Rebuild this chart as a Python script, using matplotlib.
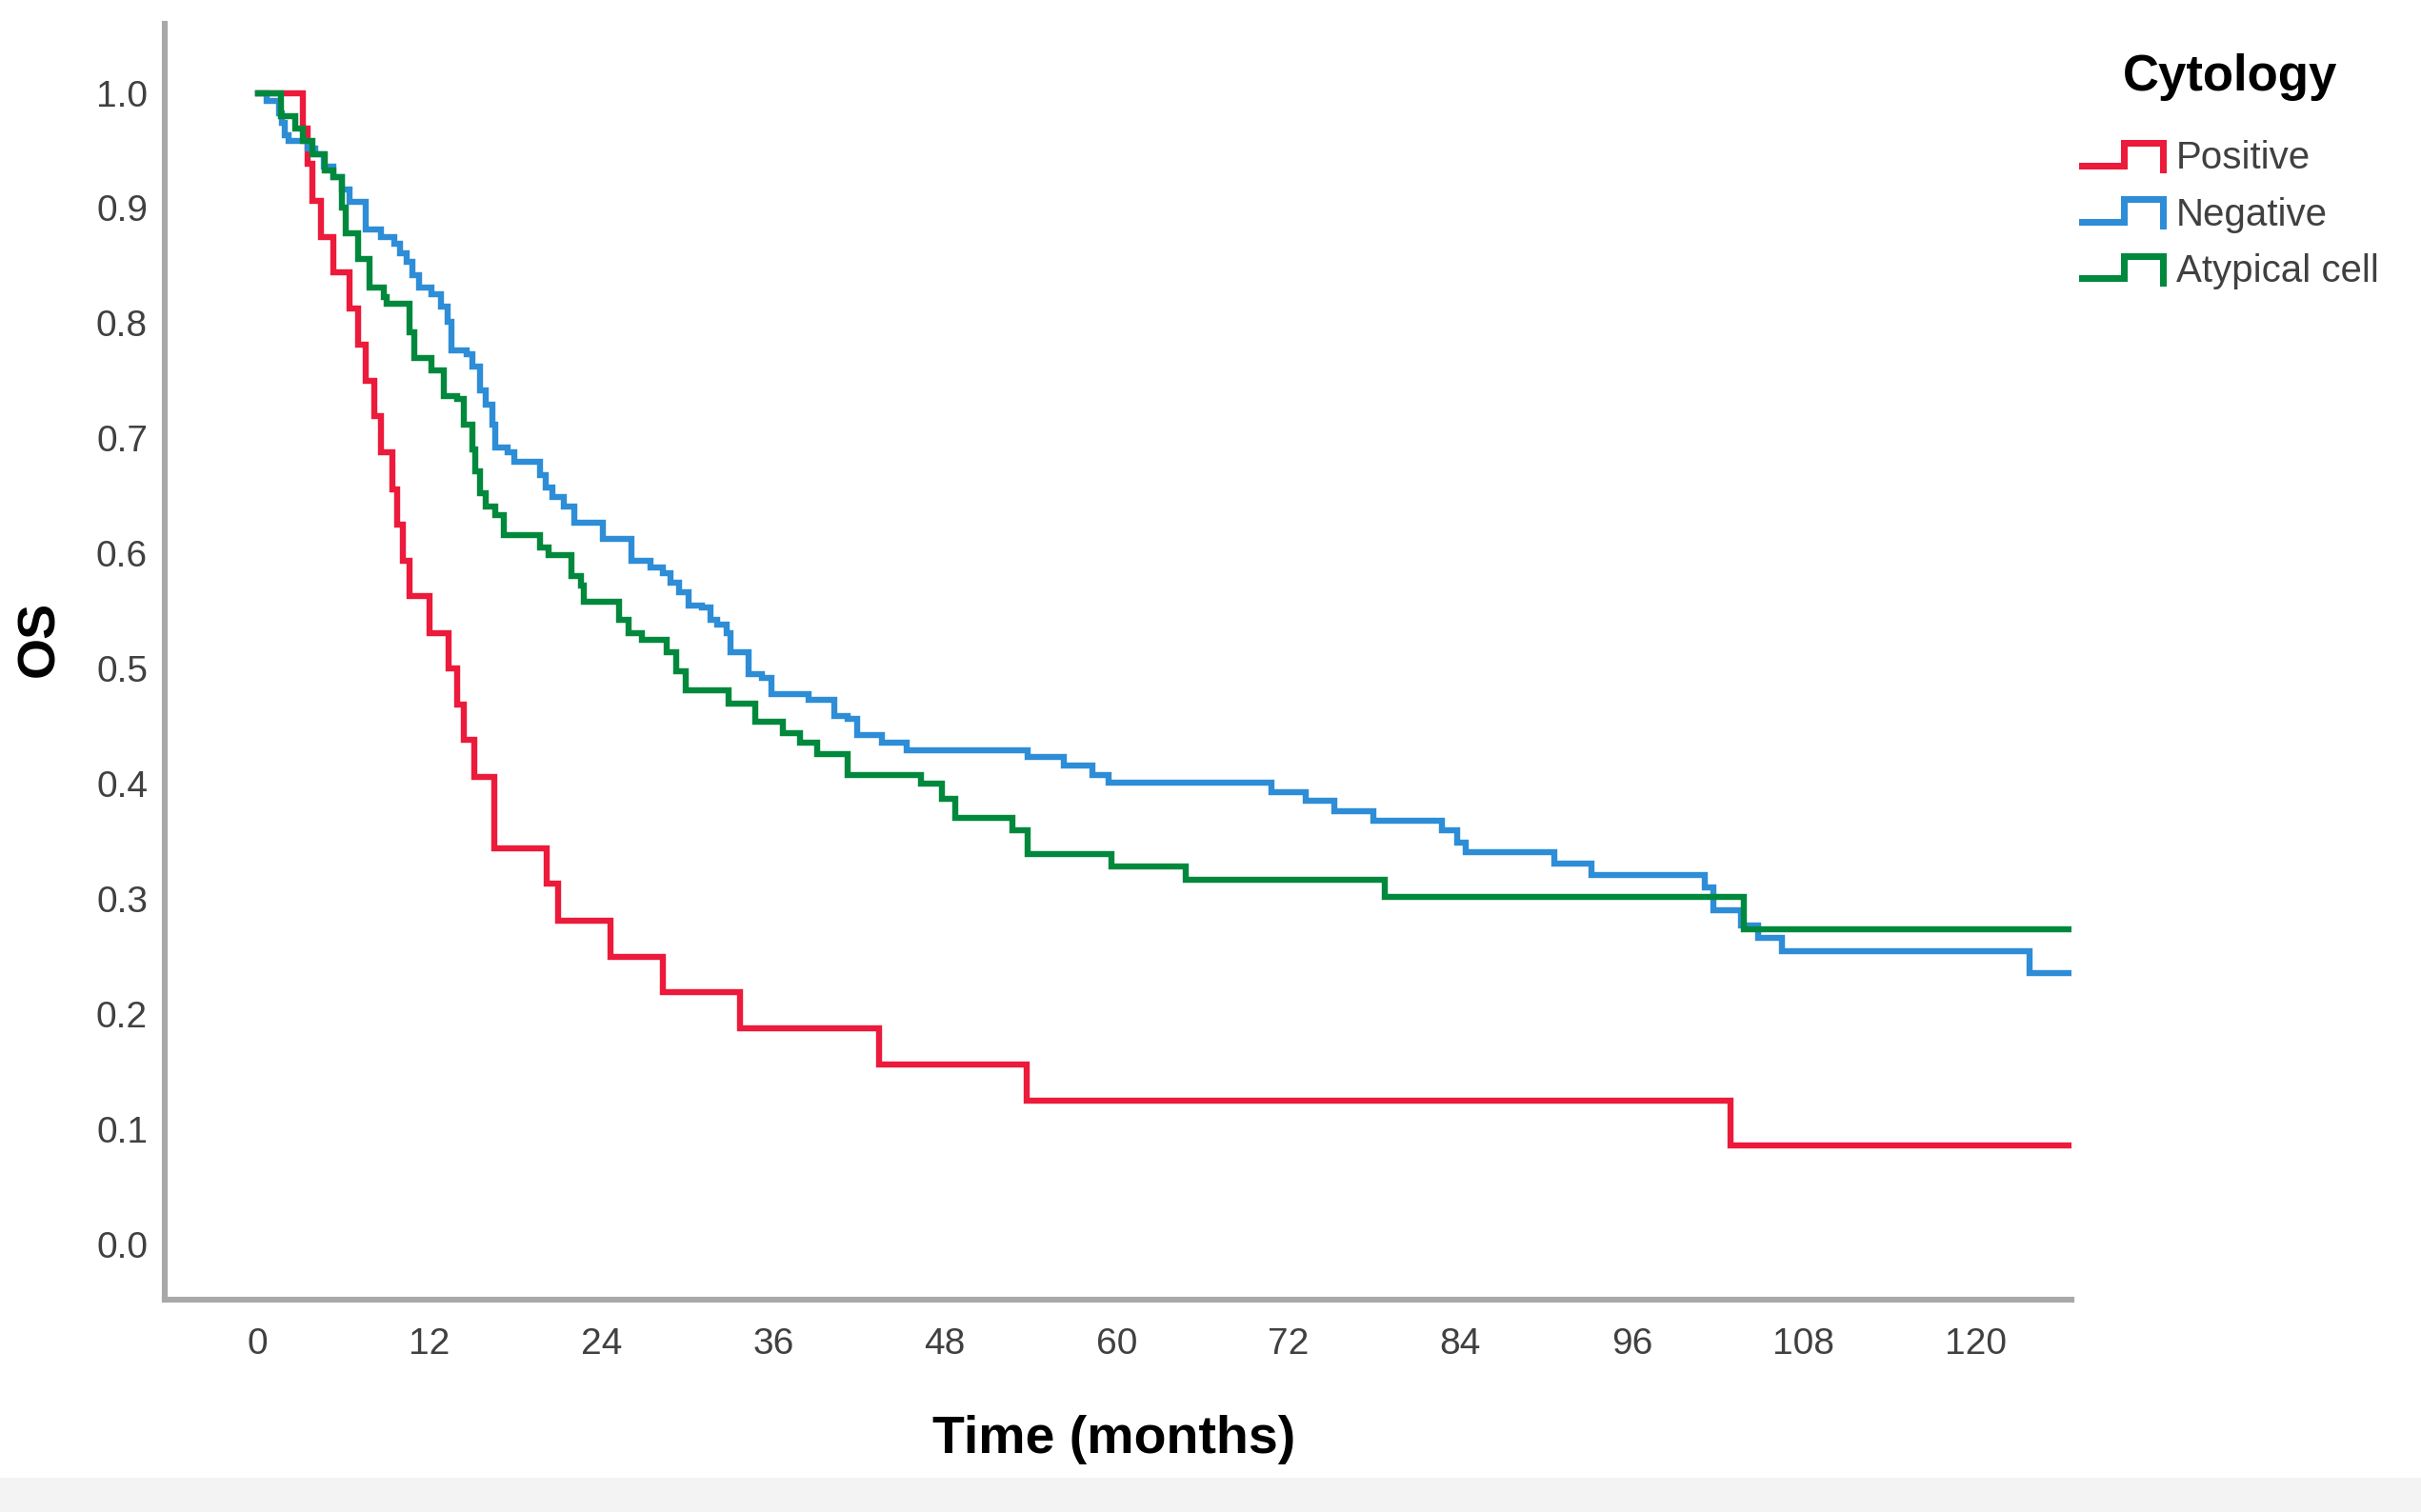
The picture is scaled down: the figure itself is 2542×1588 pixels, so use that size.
import matplotlib
matplotlib.use("Agg")
import matplotlib.pyplot as plt
from matplotlib.lines import Line2D
from matplotlib.legend_handler import HandlerBase
from matplotlib.patches import Rectangle

# survival curves: time (months) where the curve steps, new value
pos_t = [0, 3.15, 3.5, 3.8, 4.4, 5.3, 6.4, 7.0, 7.5, 8.1, 8.6, 9.4, 9.7, 10.1, 10.6, 12.0,
         13.3, 13.9, 14.4, 15.1, 16.5, 20.2, 21.0, 24.6, 28.3, 33.7, 43.4, 53.7, 102.9, 126.5]
pos_s = [1.0, 0.969, 0.938, 0.906, 0.875, 0.844, 0.813, 0.781, 0.750, 0.719, 0.688, 0.656,
         0.625, 0.594, 0.563, 0.531, 0.500, 0.469, 0.438, 0.406, 0.344, 0.313, 0.281, 0.250,
         0.219, 0.188, 0.156, 0.125, 0.086, 0.086]

neg_t = [0, 0.6, 1.5, 1.7, 1.9, 2.15, 3.5, 4.0, 4.6, 5.3,
         5.9, 6.4, 7.5, 8.6, 9.5, 9.9, 10.4, 10.8, 11.25, 12.1,
         12.8, 13.25, 13.5, 14.6, 15.0, 15.5, 15.9, 16.35, 16.6, 17.45,
         17.9, 19.7, 20.1, 20.6, 21.4, 22.1, 24.1, 26.1, 27.4, 28.3,
         28.8, 29.4, 30.1, 31.0, 31.65, 32.1, 32.75, 33.0, 34.3, 35.2,
         35.9, 38.5, 40.3, 41.2, 41.85, 43.6, 45.3, 53.8, 56.3, 58.3,
         59.4, 70.8, 73.2, 75.2, 77.9, 82.7, 83.8, 84.4, 90.6, 93.2,
         101.1, 101.7, 103.6, 104.8, 106.5, 123.8, 126.5]
neg_s = [1.0, 0.993, 0.982, 0.974, 0.963, 0.958, 0.952, 0.947, 0.936, 0.927,
         0.916, 0.905, 0.881, 0.875, 0.869, 0.861, 0.853, 0.842, 0.831, 0.825,
         0.814, 0.801, 0.776, 0.773, 0.762, 0.742, 0.729, 0.712, 0.692, 0.688,
         0.680, 0.668, 0.657, 0.649, 0.641, 0.627, 0.613, 0.594, 0.588, 0.583,
         0.575, 0.566, 0.555, 0.553, 0.542, 0.538, 0.531, 0.514, 0.495, 0.492,
         0.478, 0.473, 0.459, 0.456, 0.442, 0.436, 0.429, 0.423, 0.416, 0.408,
         0.401, 0.393, 0.385, 0.376, 0.368, 0.360, 0.349, 0.341, 0.331, 0.321,
         0.310, 0.290, 0.277, 0.266, 0.255, 0.236, 0.236]

aty_t = [0, 1.6, 2.6, 3.15, 3.8, 4.7, 5.3, 5.9, 6.15, 7.0,
         7.8, 8.8, 9.0, 10.6, 10.9, 12.1, 13.0, 13.9, 14.4, 15.0,
         15.2, 15.5, 15.9, 16.6, 17.2, 19.7, 20.3, 21.9, 22.6, 22.8,
         25.2, 25.9, 26.8, 28.55, 29.2, 29.9, 32.9, 34.75, 36.7, 37.85,
         39.1, 41.2, 46.3, 47.8, 48.7, 52.7, 53.8, 59.6, 64.8, 78.7,
         103.8, 126.5]
aty_s = [1.0, 0.98, 0.969, 0.958, 0.947, 0.933, 0.927, 0.900, 0.878, 0.856,
         0.831, 0.823, 0.817, 0.792, 0.770, 0.759, 0.737, 0.734, 0.712, 0.690,
         0.671, 0.652, 0.641, 0.633, 0.616, 0.605, 0.599, 0.580, 0.572, 0.558,
         0.542, 0.531, 0.525, 0.514, 0.498, 0.481, 0.470, 0.454, 0.444, 0.436,
         0.426, 0.408, 0.400, 0.387, 0.370, 0.360, 0.339, 0.328, 0.317, 0.302,
         0.274, 0.274]

labels = ["Positive", "Negative", "Atypical cell"]
colors = ["#EC1A3B", "#2E8DD7", "#00893D"]
xticks = list(range(0, 121, 12))
yticks = [i / 10 for i in range(11)]


class StepHandler(HandlerBase):
    """legend key drawn as a little km step"""
    def create_artists(self, legend, orig_handle, xdescent, ydescent,
                       width, height, fontsize, trans):
        fx = [0, 0.49, 0.49, 0.96, 0.96]
        fy = [0.15, 0.15, 0.95, 0.95, 0.0]
        xs = [f * width - xdescent for f in fx]
        ys = [f * height - ydescent for f in fy]
        ln = Line2D(xs, ys, color=orig_handle.get_color(),
                    lw=orig_handle.get_linewidth() * 1.1, solid_joinstyle="miter")
        ln.set_transform(trans)
        return [ln]


plt.rcParams['font.family'] = ['Liberation Sans', 'DejaVu Sans']

fig = plt.figure(figsize=(12.71, 7.94), dpi=200)
ax = fig.add_axes([0.0681, 0.1404, 0.7875, 0.8439])

handles = []
for t, s, lab, c in zip([pos_t, neg_t, aty_t], [pos_s, neg_s, aty_s], labels, colors):
    h, = ax.step(t, s, where='post', color=c, lw=2.3, label=lab,
                 solid_joinstyle="miter")
    handles.append(h)

ax.set_xlim(-6.5, 126.7)
ax.set_ylim(-0.048, 1.06)
ax.set_xticks(xticks)
ax.set_yticks(yticks)
ax.set_yticklabels(["%.1f" % v for v in yticks])
ax.tick_params(axis='both', length=0, labelsize=14, labelcolor='#404040')
ax.tick_params(axis='y', pad=6.5)
ax.tick_params(axis='x', pad=10.5)

for side in ['top', 'right']:
    ax.spines[side].set_visible(False)
for side in ['left', 'bottom']:
    ax.spines[side].set_color('#a8a8a8')
    ax.spines[side].set_linewidth(2.2)

ax.set_xlabel("Time (months)", fontsize=20, fontweight='bold', va='center')
ax.set_ylabel("OS", fontsize=20, fontweight='bold', va='center')
ax.xaxis.set_label_coords(0.498, -0.11)
ax.yaxis.set_label_coords(-0.0654, 0.518)

leg = fig.legend(handles, labels, loc='upper left', bbox_to_anchor=(0.86, 0.965),
                 frameon=False, title="Cytology", fontsize=14.5,
                 title_fontproperties={'weight': 'bold', 'size': 19},
                 handler_map={Line2D: StepHandler()},
                 handlelength=2.2, handleheight=0.75, handletextpad=0.25,
                 labelspacing=0.53, borderpad=0.0, borderaxespad=0.0)
for txt in leg.get_texts():
    txt.set_color('#404040')
leg._legend_box.sep = 15

# faint grey band along the bottom edge of the picture
fig.patches.append(Rectangle((0, 0), 1, 0.022, transform=fig.transFigure,
                             color='#f3f3f3', zorder=-1))

fig.savefig("out.png", dpi=200)
